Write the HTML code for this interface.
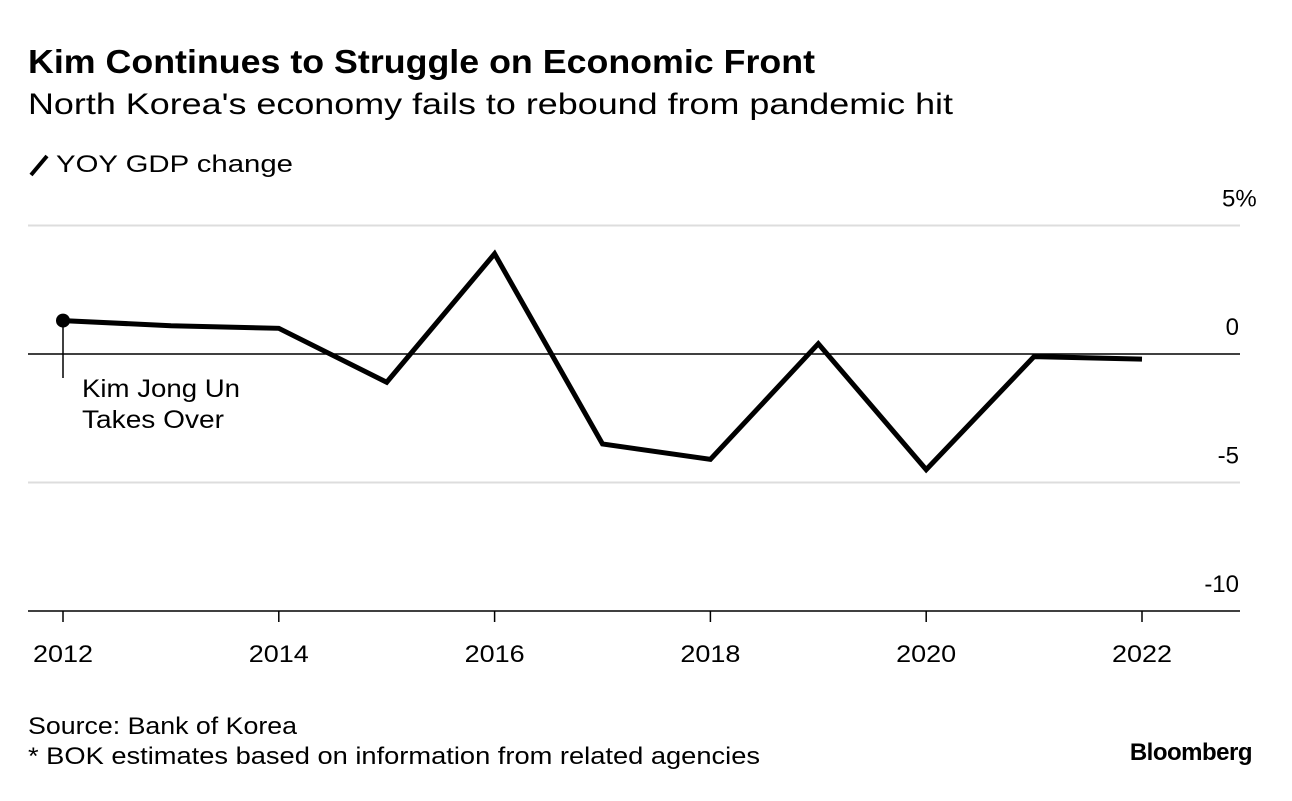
<!DOCTYPE html>
<html><head><meta charset="utf-8"><style>
body{margin:0;background:#fff;width:1292px;height:796px;overflow:hidden;font-family:"Liberation Sans",sans-serif;color:#000}
svg text{font-family:"Liberation Sans",sans-serif}
</style></head><body>
<svg width="1292" height="796">
<text x="28" y="73" font-size="33" font-weight="bold" textLength="787" lengthAdjust="spacingAndGlyphs">Kim Continues to Struggle on Economic Front</text>
<text x="28" y="114" font-size="30" textLength="925" lengthAdjust="spacingAndGlyphs">North Korea's economy fails to rebound from pandemic hit</text>
<line x1="31" y1="175" x2="47" y2="156" stroke="#000" stroke-width="4"/>
<text x="56" y="172" font-size="24" textLength="237" lengthAdjust="spacingAndGlyphs">YOY GDP change</text>
<g id="grid"></g>
<g id="marks"></g>
<text x="28" y="734" font-size="24" textLength="269" lengthAdjust="spacingAndGlyphs">Source: Bank of Korea</text>
<text x="28" y="764" font-size="24" textLength="732" lengthAdjust="spacingAndGlyphs">* BOK estimates based on information from related agencies</text>
<text x="1252" y="760" font-size="24" font-weight="bold" text-anchor="end" letter-spacing="-0.5">Bloomberg</text>
</svg>
<script>
const years=[2012,2013,2014,2015,2016,2017,2018,2019,2020,2021,2022];
const gdp=[1.3,1.1,1.0,-1.1,3.9,-3.5,-4.1,0.4,-4.5,-0.1,-0.2];
const yTicks=[5,0,-5,-10];
const yTickLabels=["5%","0","-5","-10"];
const xTicks=[2012,2014,2016,2018,2020,2022];
const NS="http://www.w3.org/2000/svg";
const x=v=>63+(v-2012)*107.9;
const y=v=>354-v*25.7;
const grid=document.getElementById('grid'),marks=document.getElementById('marks');
function mk(tag,attrs,parent){const e=document.createElementNS(NS,tag);for(const k in attrs)e.setAttribute(k,attrs[k]);parent.appendChild(e);return e;}
yTicks.forEach((t,i)=>{
  const col=t===0||t===-10?'#000':'#ddd';
  const l=mk('line',{x1:28,x2:1240,y1:y(t),y2:y(t),stroke:col,'stroke-width':t===0||t===-10?1.5:2},grid);
  
  
  const lab=yTickLabels[i];
  const tx=mk('text',lab.indexOf('%')>=0?{x:1222,y:y(t)-19,'font-size':24}:{x:1239,y:y(t)-19,'font-size':24,'text-anchor':'end'},grid);
  tx.textContent=lab;
  
  
});
xTicks.forEach(t=>{
  const l=mk('line',{x1:x(t),x2:x(t),y1:y(-10),y2:y(-10)+11,stroke:'#000','stroke-width':1.5},grid);
  
  
  const tx=mk('text',{x:x(t)-30,y:662,'font-size':24,textLength:60,lengthAdjust:'spacingAndGlyphs'},grid);
  tx.textContent=t;
  
  
});
const ann=mk('line',{x1:x(2012),x2:x(2012),y1:y(gdp[0]),y2:378,stroke:'#000','stroke-width':1.5},marks);


const line=mk('polyline',{points:years.map((yr,i)=>x(yr)+','+y(gdp[i])).join(' '),fill:'none',stroke:'#000','stroke-width':5,'stroke-linejoin':'miter'},marks);


const dot=mk('circle',{cx:x(2012),cy:y(gdp[0]),r:7,fill:'#000'},marks);


[['Kim Jong Un',158],['Takes Over',142]].forEach((s,i)=>{
  const t=mk('text',{x:82,y:397+i*31,'font-size':25,textLength:s[1],lengthAdjust:'spacingAndGlyphs'},marks);
  t.textContent=s[0];
  
  
});
</script>
</body></html>
